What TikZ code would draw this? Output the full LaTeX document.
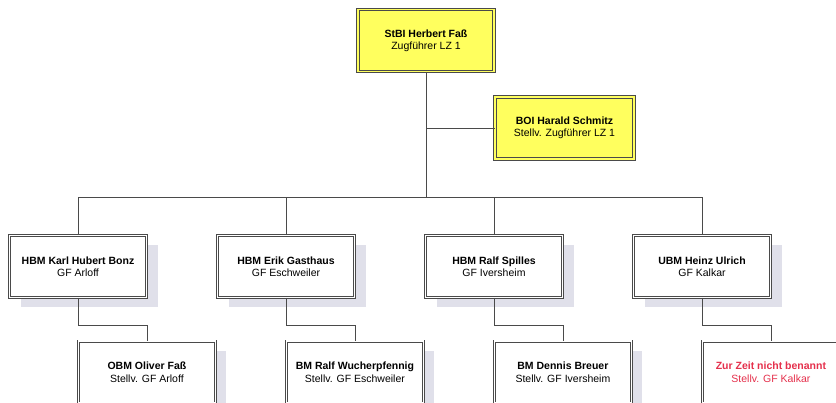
\documentclass[tikz,border=0pt]{standalone}
\usepackage{fontspec}
\setmainfont{Liberation Sans}
\usepackage{xcolor}
\definecolor{boxline}{HTML}{4A4A4A}
\definecolor{leadyellow}{HTML}{FFFF5E}
\definecolor{shadowgrey}{HTML}{E0E0EA}
\definecolor{vacant}{HTML}{E5304C}
\usetikzlibrary{positioning, shadows, calc}
\tikzset{
  leadbox/.style={
    draw=boxline, double=leadyellow, double distance=1.6pt,
    line width=0.8pt, fill=leadyellow,
    minimum width=136pt, minimum height=62pt,
    font=\fontsize{10.5}{12.2}\selectfont, align=center,
  },
  unitbox/.style={
    draw=boxline, double=white, double distance=1.6pt,
    line width=0.8pt, fill=white,
    minimum width=137pt, minimum height=62pt,
    font=\fontsize{10.5}{12.2}\selectfont, align=center,
    drop shadow={shadow xshift=11pt, shadow yshift=-10pt,
                 fill=shadowgrey, opacity=1},
  },
  link/.style={draw=boxline, line width=0.7pt},
}

\begin{document}
\begin{tikzpicture}[x=1pt, y=-1pt]
  \useasboundingbox (0,0) rectangle (836,403);

  % Zugfuehrung
  \node[leadbox] (zf) at (426,40.5)
    {\textbf{StBI Herbert Faß}\\Zugführer LZ 1};
  \node[leadbox, minimum width=139pt] (stzf) at (564.5,128)
    {\textbf{BOI Harald Schmitz}\\Stellv. Zugführer LZ 1};

  % Gruppenfuehrer
  \node[unitbox] (arloff) at (78,266.5)
    {\textbf{HBM Karl Hubert Bonz}\\GF Arloff};
  \node[unitbox] (eschw) at (286,266.5)
    {\textbf{HBM Erik Gasthaus}\\GF Eschweiler};
  \node[unitbox] (ivers) at (494,266.5)
    {\textbf{HBM Ralf Spilles}\\GF Iversheim};
  \node[unitbox] (kalkar) at (702,266.5)
    {\textbf{UBM Heinz Ulrich}\\GF Kalkar};

  % Stellvertreter
  \node[unitbox, below=43pt of arloff.south east] (starloff)
    {\textbf{OBM Oliver Faß}\\Stellv. GF Arloff};
  \node[unitbox, below=43pt of eschw.south east] (steschw)
    {\textbf{BM Ralf Wucherpfennig}\\Stellv. GF Eschweiler};
  \node[unitbox, below=43pt of ivers.south east] (stivers)
    {\textbf{BM Dennis Breuer}\\Stellv. GF Iversheim};
  \node[unitbox, text=vacant, below=43pt of kalkar.south east] (stkalkar)
    {\textbf{Zur Zeit nicht benannt}\\Stellv. GF Kalkar};

  % Linien
  \coordinate (bar) at (426,197);
  \draw[link] (zf.south) -- (bar);
  \draw[link] (stzf.west) -- (stzf.west -| zf.south);
  \draw[link] (arloff.north) -- (arloff.north |- bar) -| (kalkar.north);
  \draw[link] (eschw.north) -- (eschw.north |- bar);
  \draw[link] (ivers.north) -- (ivers.north |- bar);

  \draw[link] (arloff.south) -- ++(0,27) -| (starloff.north);
  \draw[link] (eschw.south) -- ++(0,27) -| (steschw.north);
  \draw[link] (ivers.south) -- ++(0,27) -| (stivers.north);
  \draw[link] (kalkar.south) -- ++(0,27) -| (stkalkar.north);
\end{tikzpicture}
\end{document}
